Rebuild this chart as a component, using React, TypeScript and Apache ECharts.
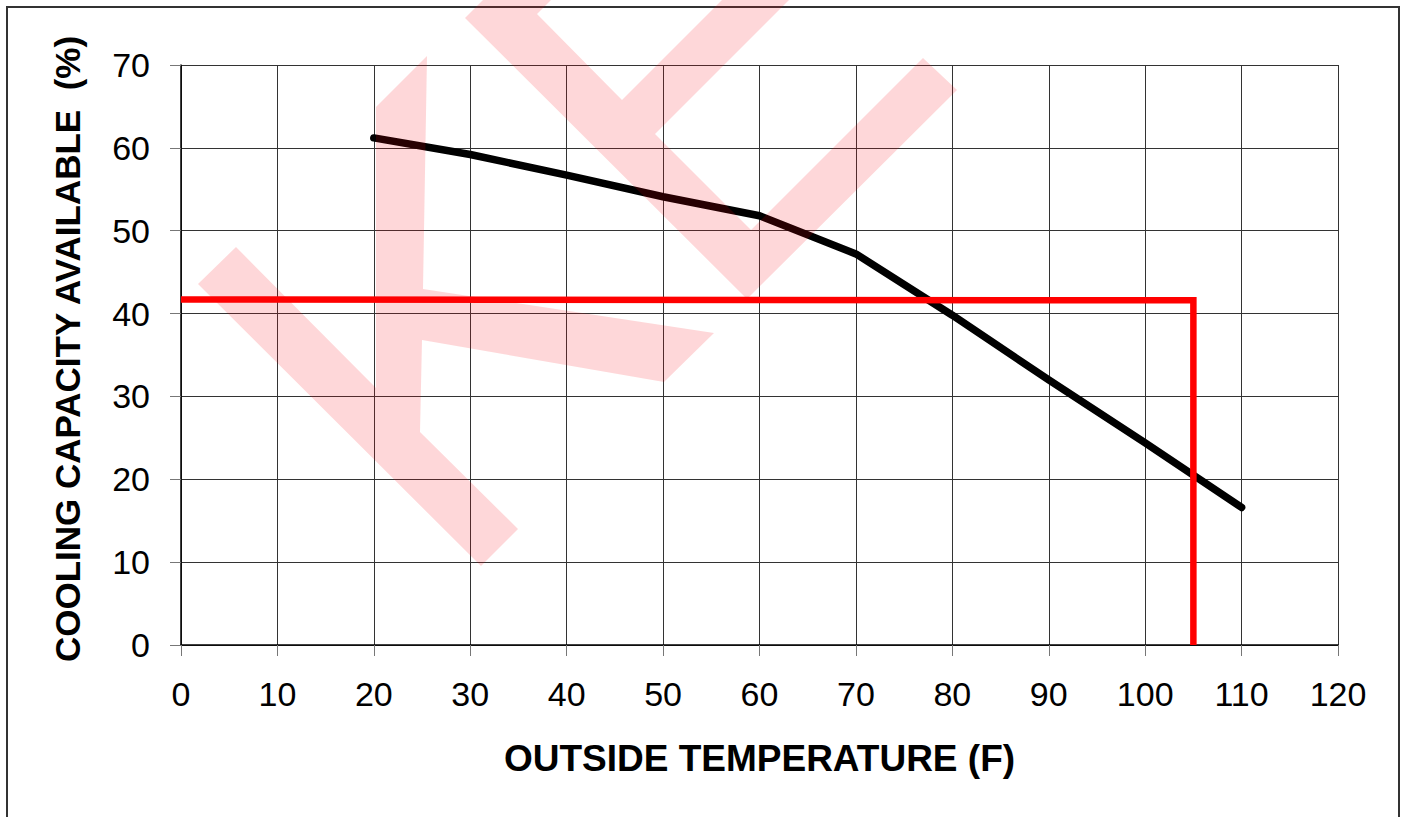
import React, { useEffect, useRef } from "react";
import * as echarts from "echarts";

// Measured curve: outside temperature (F) vs cooling capacity available (%)
const temps = [20, 30, 40, 50, 60, 70, 80, 90, 100, 110];
const capacity = [61.2, 59.2, 56.7, 54.1, 51.8, 47.2, 39.8, 32.0, 24.4, 16.6];

// Red reference line
const refTemps = [0, 105, 105];
const refCapacity = [41.7, 41.6, 0];

const xAxisTitle = "OUTSIDE TEMPERATURE (F)";
const yAxisTitle = "COOLING CAPACITY AVAILABLE  (%)";

// Watermark outlines (pixel coordinates of the page)
const wmK: number[][] = [
  [198, 284], [236, 247], [376, 388], [376, 107], [427, 56], [423, 289],
  [714, 333], [664, 382], [422, 340], [420, 432], [518, 529], [481, 566],
];
const wmV: number[][] = [
  [503, -20], [465, 18], [747, 299], [957, 90], [923, 58], [751, 230],
  [655, 134], [809, -20], [742, -20], [622, 100], [537, 14], [571, -20],
];

const FONT = "'Liberation Sans', Arial, Helvetica, sans-serif";

export default function App() {
  const ref = useRef<HTMLDivElement>(null);
  useEffect(() => {
    if (!ref.current) return;
    const chart = echarts.init(ref.current, null, { renderer: "svg" });
    const curve = temps.map((t, i) => [t, capacity[i]]);
    const refLine = refTemps.map((t, i) => [t, refCapacity[i]]);
    chart.setOption({
      animation: false,
      backgroundColor: "#ffffff",
      textStyle: { fontFamily: FONT },
      grid: { left: 181, top: 65, right: 67, bottom: 172, show: false },
      xAxis: {
        type: "value",
        min: 0,
        max: 120,
        interval: 10,
        name: xAxisTitle,
        nameLocation: "middle",
        nameGap: 95,
        nameTextStyle: { fontFamily: FONT, fontSize: 37, fontWeight: "bold", color: "#000" },
        axisLine: { show: true, onZero: false, lineStyle: { color: "#000", width: 1.5 } },
        axisTick: { show: true, length: 11, lineStyle: { color: "#777", width: 1 } },
        axisLabel: { fontFamily: FONT, fontSize: 34, color: "#000", margin: 32 },
        splitLine: { show: true, lineStyle: { color: "#333", width: 1 } },
      },
      yAxis: {
        type: "value",
        min: 0,
        max: 70,
        interval: 10,
        name: yAxisTitle,
        nameLocation: "middle",
        nameGap: 96,
        nameRotate: 90,
        nameTextStyle: { fontFamily: FONT, fontSize: 35, fontWeight: "bold", color: "#000", padding: [0, 0, 0, 12] },
        axisLine: { show: true, onZero: false, lineStyle: { color: "#000", width: 1.5 } },
        axisTick: { show: true, length: 11, lineStyle: { color: "#777", width: 1 } },
        axisLabel: { fontFamily: FONT, fontSize: 34, color: "#000", margin: 31 },
        splitLine: { show: true, lineStyle: { color: "#333", width: 1 } },
      },
      series: [
        {
          type: "line",
          data: curve,
          symbol: "none",
          lineStyle: { color: "#000", width: 7.5, cap: "round", join: "round" },
          z: 3,
        },
        {
          type: "line",
          data: refLine,
          symbol: "none",
          lineStyle: { color: "#ff0000", width: 6.5, join: "miter" },
          z: 4,
        },
      ],
      graphic: [
        {
          type: "rect",
          shape: { x: 7, y: 7, width: 1392, height: 840 },
          style: { fill: "none", stroke: "#333", lineWidth: 2 },
          silent: true,
          z: 0,
        },
        {
          type: "polygon",
          shape: { points: wmK },
          style: { fill: "rgba(250,0,10,0.155)" },
          silent: true,
          z: 100,
        },
        {
          type: "polygon",
          shape: { points: wmV },
          style: { fill: "rgba(250,0,10,0.155)" },
          silent: true,
          z: 100,
        },
      ],
    });
    return () => chart.dispose();
  }, []);
  return (
    <div
      ref={ref}
      style={{ position: "fixed", left: 0, top: 0, width: 1405, height: 817, background: "#fff" }}
    />
  );
}
